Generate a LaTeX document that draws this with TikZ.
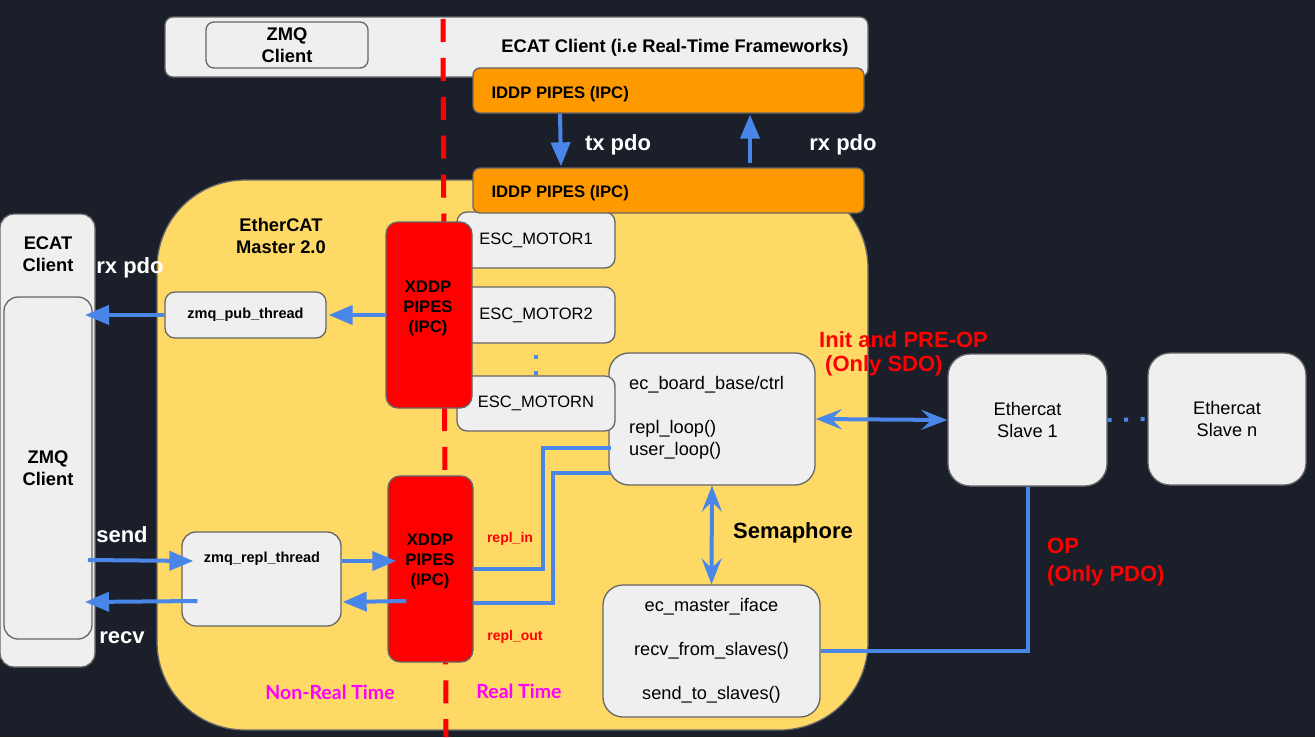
\documentclass[tikz,border=0pt]{standalone}
\usepackage{fontspec}
\setmainfont{Liberation Sans}
\newfontfamily\lato{Lato}
\usetikzlibrary{arrows.meta,calc}
\definecolor{bg}{RGB}{27,31,42}
\definecolor{boxgray}{HTML}{EFEFEF}
\definecolor{edge}{HTML}{666666}
\definecolor{mastery}{HTML}{FFD966}
\definecolor{orng}{HTML}{FF9900}
\definecolor{xred}{HTML}{FF0000}
\definecolor{ablue}{HTML}{4A86E8}
\definecolor{mag}{HTML}{FF00FF}
\begin{document}
\begin{tikzpicture}[x=1pt,y=-1pt,
  box/.style={draw=edge, line width=1.3pt, fill=boxgray, rounded corners=#1, inner sep=0pt},
  box/.default=8pt,
  bl/.style={font=\bfseries\fontsize{18.3}{22}\selectfont, align=center},
  smallbl/.style={font=\bfseries\fontsize{14.5}{17}\selectfont},
  pipelbl/.style={font=\bfseries\fontsize{16.7}{20}\selectfont, align=center},
  plain/.style={font=\fontsize{18.2}{22}\selectfont, align=center},
  esclbl/.style={font=\fontsize{16.5}{20}\selectfont},
  wl/.style={text=white, font=\bfseries\fontsize{22}{25}\selectfont},
  rl/.style={text=xred, font=\bfseries\fontsize{22}{28}\selectfont, align=left},
  tl/.style={text=mag, font=\lato\bfseries\fontsize{19.5}{23}\selectfont},
  arr/.style={draw=ablue, line width=4pt, -{Triangle[length=24pt,width=19pt]}},
  darr/.style={draw=ablue, line width=4pt, {Stealth[length=26pt,width=20pt,inset=10pt]}-{Stealth[length=26pt,width=20pt,inset=10pt]}},
  bline/.style={draw=ablue, line width=4pt}
]
\fill[bg] (0,0) rectangle (1315,737);
\useasboundingbox (0,0) rectangle (1315,737);

% top client
\node[box, minimum width=703pt, minimum height=60pt] (top) at (516.5,47) {};
\node[box, minimum width=162pt, minimum height=46pt, bl] (zmqtop) at (287,45) {ZMQ\\Client};
\node[bl, anchor=east] (ecattop) at (852,48) {ECAT Client (i.e Real-Time Frameworks)};

% master
\node[box=88pt, fill=mastery, minimum width=711pt, minimum height=550pt] (master) at (512.5,455) {};
\node[bl] (mastlbl) at (281,236) {EtherCAT\\Master 2.0};

% red divider
\draw[xred, line width=5pt, dash pattern=on 23pt off 15.9pt] (443,19) -- (446,737);

% left client
\node[box=14pt, minimum width=95pt, minimum height=453pt] (lcl) at (47.5,440.5) {};
\node[bl] (lcllbl) at (48,254) {ECAT\\Client};
\node[box=14pt, minimum width=88pt, minimum height=342pt, bl] (lzmq) at (48,468) {ZMQ\\Client};

% board and ESC
\node[box=20pt, minimum width=206pt, minimum height=132pt] (board) at (712,419) {};
\node[font=\fontsize{18.2}{22}\selectfont, align=left, anchor=west, inner sep=0pt] (boardtxt) at (629,418)
  {ec\_board\_base/ctrl\\[22pt]repl\_loop()\\user\_loop()};
\node[box=10pt, minimum width=158pt, minimum height=56pt, esclbl] (esc1) at (536,240) {ESC\_MOTOR1};
\node[box=10pt, minimum width=158pt, minimum height=56pt, esclbl] (esc2) at (536,315) {ESC\_MOTOR2};
\node[box=10pt, minimum width=158pt, minimum height=55pt, esclbl] (escn) at (536,403.5) {ESC\_MOTORN};
\draw[ablue, line width=4pt, dash pattern=on 0pt off 11pt on 4pt off 12.5pt on 4pt off 100pt] (esc2.south) -- (escn.north);

% orange pipes
\node[box=7pt, fill=orng, minimum width=391pt, minimum height=45pt] (or1) at (668.5,90.5) {};
\node[pipelbl, anchor=west] (or1t) at (488,94) {IDDP PIPES (IPC)};
\node[box=7pt, fill=orng, minimum width=391pt, minimum height=45pt] (or2) at (668.5,190.5) {};
\node[pipelbl, anchor=west] (or2t) at (488,193) {IDDP PIPES (IPC)};

% xddp
\node[box=12pt, fill=xred, minimum width=86pt, minimum height=186pt] (x1) at (429,315) {};
\node[pipelbl] (x1t) at (428,308) {XDDP\\PIPES\\(IPC)};
\node[box=12pt, fill=xred, minimum width=85pt, minimum height=186pt] (x2) at (430.5,569) {};
\node[pipelbl] (x2t) at (430,561) {XDDP\\PIPES\\(IPC)};

% threads
\node[box=10pt, minimum width=161pt, minimum height=46pt, smallbl] (pub) at (245.5,315) {zmq\_pub\_thread};
\node[box=14pt, minimum width=159pt, minimum height=94pt] (repl) at (261.5,579) {};
\node[smallbl] (replt) at (262,559) {zmq\_repl\_thread};

% iface and slaves
\node[box=20pt, minimum width=217pt, minimum height=132pt, plain] (iface) at (711.5,651)
  {ec\_master\_iface\\[22pt]recv\_from\_slaves()\\[22pt]send\_to\_slaves()};
\node[box=22pt, minimum width=159pt, minimum height=132pt, plain] (s1) at (1027.5,420) {Ethercat\\Slave 1};
\node[box=22pt, minimum width=158pt, minimum height=132pt, plain] (sn) at (1227,419) {Ethercat\\Slave n};

% connectors
\coordinate (pubtip) at (85,315);
\draw[arr] (pub.west) -- (pubtip);
\draw[arr] (x1.west) -- ($(pub.east)+(2,0)$);
\draw[arr] ($(or1.south)+(-108.5,0)$) -- ($(or2.north)+(-107.5,-1)$);
\draw[arr] ($(or2.north)+(81.5,-4)$) -- ($(or1.south)+(81.5,1)$);
\coordinate (sendfrom) at (88,560);
\draw[arr] (sendfrom) -- ($(repl.west)+(12,-18)$);
\coordinate (recvtip) at (85,602);
\draw[arr] ($(repl.west)+(16,22)$) -- (recvtip);
\draw[arr] ($(repl.east)+(0,-18)$) -- ($(x2.west)+(9,-8)$);
\draw[arr] ($(x2.west)+(19,32)$) -- ($(repl.east)+(1,23)$);
\draw[bline] (x2.east) -- ++(69,0) |- ($(board.west)+(3,29)$);
\draw[bline] ($(x2.east)+(-1,34)$) -- ++(80,0) |- ($(board.west)+(3,54)$);
\draw[darr] (board.east) -- (s1.west);
\draw[darr] (board.south) -- (iface.north);
\draw[bline] (iface.east) -| (s1.south);
\draw[ablue, line width=4pt, dash pattern=on 4pt off 12.5pt] (s1.east) -- (sn.west);

% labels
\node[wl] (txl) at (618,145) {tx pdo};
\node[wl] (rxl) at (843,145) {rx pdo};
\node[wl] (rxl2) at (130,268) {rx pdo};
\node[wl] (sendl) at (122,535) {send};
\node[wl] (recvl) at (122,638) {recv};
\node[font=\bfseries\fontsize{22}{25}\selectfont] (sem) at (793,533) {Semaphore};
\node[rl, anchor=west, inner sep=0pt] (init1) at (819,340) {Init and PRE-OP};
\node[rl, anchor=west, inner sep=0pt] (init2) at (825,366) {(Only SDO)};
\node[rl, anchor=west, inner sep=0pt] (opl) at (1047,562) {OP\\(Only PDO)};
\node[text=xred, font=\bfseries\fontsize{14}{17}\selectfont] (rin) at (510,539) {repl\_in};
\node[text=xred, font=\bfseries\fontsize{14}{17}\selectfont] (rout) at (515,637) {repl\_out};
\node[tl] (nrt) at (330,692) {Non-Real Time};
\node[tl] (rt) at (519,691) {Real Time};
\end{tikzpicture}
\end{document}
